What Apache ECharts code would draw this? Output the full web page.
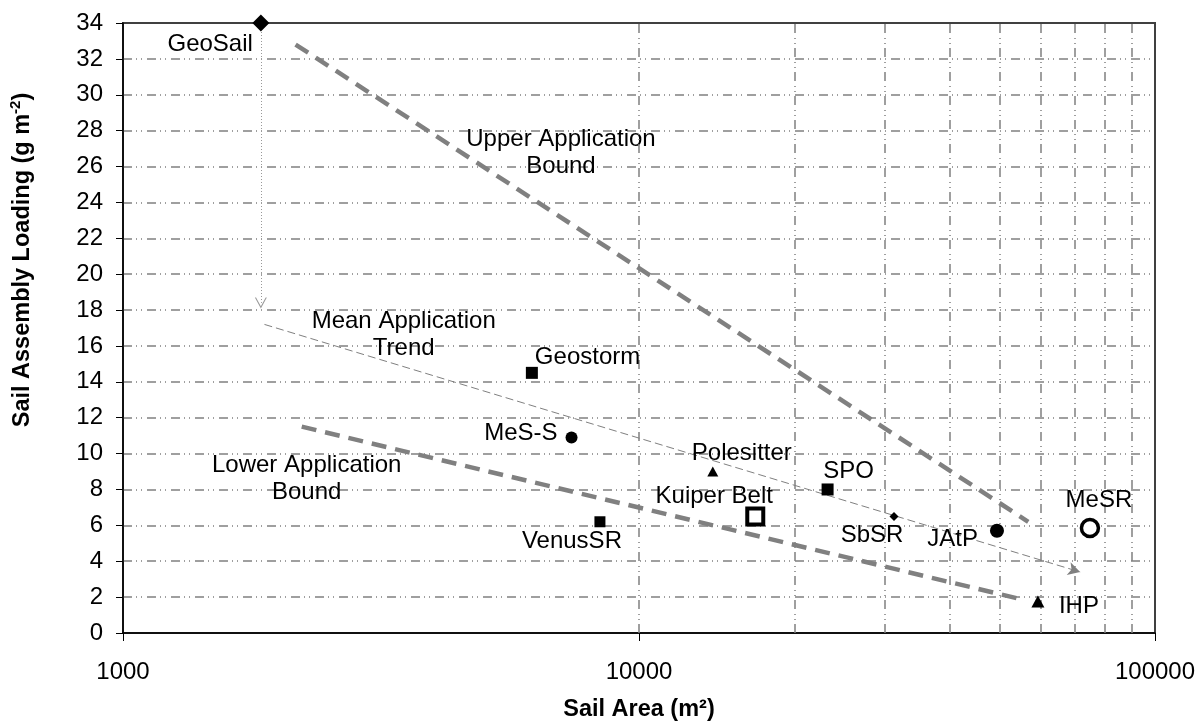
<!DOCTYPE html>
<html>
<head>
<meta charset="utf-8">
<title>Sail assembly loading vs sail area</title>
<script src="https://cdn.jsdelivr.net/npm/echarts@6/dist/echarts.min.js"></script>
<style>
  html, body { margin: 0; padding: 0; background: #fff; }
  #chart { width: 1203px; height: 722px; }
</style>
</head>
<body>
<div id="chart"></div>
<script>
// mission points (sail area m^2, loading g/m^2)
const pointNames = ['GeoSail', 'Geostorm', 'MeS-S', 'Polesitter', 'Kuiper Belt', 'VenusSR', 'SPO', 'SbSR', 'JAtP', 'MeSR', 'IHP'];
const sailArea   = [1850, 6200, 7400, 13900, 16800, 8400, 23200, 31200, 49400, 74800, 59300];
const loading    = [34, 14.5, 10.9, 9.0, 6.5, 6.2, 8.0, 6.5, 5.7, 5.85, 1.75];

// trend lines, end points
const upperBoundX = [2160, 56800];
const upperBoundY = [32.8, 6.2];
const lowerBoundX = [2220, 54700];
const lowerBoundY = [11.5, 1.9];
const meanTrendX  = [1880, 71600];
const meanTrendY  = [17.2, 3.4];
const geoSailDropY = [34, 18.4];   // dotted arrow below GeoSail

// axis ticks / grid
const xTickLabels = [1000, 10000, 100000];
const xGridLines  = [10000, 20000, 30000, 40000, 50000, 60000, 70000, 80000, 90000];
const yMin = 0, yMax = 34, yStep = 2;

// free text annotations
const noteTexts = ['Upper Application\nBound', 'Mean Application\nTrend', 'Lower Application\nBound'];
const noteX = [7060, 3500, 2270];
const noteY = [26.76, 16.6, 8.6];

const FONT = '"Liberation Sans", Arial, sans-serif';
const GREY = '#808080';
const dashDot = [9, 4, 1, 4, 1, 5];

// marker look per mission
const markStyle = {
  'GeoSail':     { symbol: 'diamond',  size: [17, 17] },
  'Geostorm':    { symbol: 'rect',     size: 12 },
  'MeS-S':       { symbol: 'circle',   size: 12 },
  'Polesitter':  { symbol: 'triangle', size: [11, 10] },
  'Kuiper Belt': { symbol: 'rect',     size: 16, hollow: 4 },
  'VenusSR':     { symbol: 'rect',     size: 11 },
  'SPO':         { symbol: 'rect',     size: 12 },
  'SbSR':        { symbol: 'diamond',  size: [9, 9] },
  'JAtP':        { symbol: 'circle',   size: 14 },
  'MeSR':        { symbol: 'circle',   size: 17, hollow: 3.5 },
  'IHP':         { symbol: 'triangle', size: [13, 12] }
};
// label placement relative to marker centre
const labelPlace = {
  'GeoSail':     ['right', -8, 21],
  'Geostorm':    ['left', 3, -15],
  'MeS-S':       ['right', -14, -4],
  'Polesitter':  ['center', 29, -18],
  'Kuiper Belt': ['center', -41, -20],
  'VenusSR':     ['center', -28, 20],
  'SPO':         ['center', 21, -18],
  'SbSR':        ['center', -22, 19],
  'JAtP':        ['right', -19, 9],
  'MeSR':        ['center', 9, -28],
  'IHP':         ['left', 21, 5]
};

const pointData = pointNames.map(function (name, i) {
  const st = markStyle[name];
  const lp = labelPlace[name];
  return {
    name: name,
    value: [sailArea[i], loading[i]],
    symbol: st.symbol,
    symbolSize: st.size,
    itemStyle: st.hollow
      ? { color: '#fff', borderColor: '#000', borderWidth: st.hollow, opacity: 1 }
      : { color: '#000', opacity: 1 },
    label: {
      show: true,
      formatter: name,
      position: 'inside',
      align: lp[0],
      verticalAlign: 'middle',
      offset: [lp[1], lp[2]],
      color: '#000',
      opacity: 1,
      fontFamily: FONT,
      fontSize: 24
    }
  };
});

const noteData = noteTexts.map(function (t, i) {
  return { value: [noteX[i], noteY[i]], label: { formatter: t } };
});

const chart = echarts.init(document.getElementById('chart'));
chart.setOption({
  backgroundColor: '#fff',
  animation: false,
  textStyle: { fontFamily: FONT },
  grid: {
    left: 123, right: 48, top: 23, bottom: 89,
    outerBoundsMode: 'none',
    containLabel: false,
    show: true, borderColor: '#404040', borderWidth: 2
  },
  xAxis: {
    type: 'log',
    logBase: 10,
    min: xTickLabels[0],
    max: xTickLabels[xTickLabels.length - 1],
    name: 'Sail Area (m²)',
    nameLocation: 'middle',
    nameGap: 65,
    nameTextStyle: { color: '#000', fontWeight: 'bold', fontSize: 23.5, fontFamily: FONT },
    axisLine: { lineStyle: { color: '#000', width: 1.5 } },
    axisTick: { show: true, length: 8, lineStyle: { color: '#000' } },
    axisLabel: {
      color: '#000', fontSize: 24, fontFamily: FONT, margin: 27,
      formatter: function (v) { return String(v); }
    },
    splitLine: { show: false }
  },
  yAxis: {
    type: 'value',
    min: yMin, max: yMax, interval: yStep,
    name: '{t|Sail Assembly Loading (g m}{s|-2}{t|)}',
    nameLocation: 'middle',
    nameRotate: 90,
    nameGap: 88,
    nameTextStyle: {
      padding: [0, 0, 0, 136],
      rich: {
        t: { fontFamily: FONT, fontWeight: 'bold', fontSize: 23.5, color: '#000', lineHeight: 27, verticalAlign: 'bottom' },
        s: { fontFamily: FONT, fontWeight: 'bold', fontSize: 15, color: '#000', lineHeight: 27, verticalAlign: 'top', padding: [0, 0, 10, 0] }
      }
    },
    axisLine: { show: true, lineStyle: { color: '#000', width: 1.5 } },
    axisTick: { show: true, length: 7, lineStyle: { color: '#000' } },
    axisLabel: { color: '#000', fontSize: 24, fontFamily: FONT, margin: 20 },
    splitLine: {
      show: true, showMinLine: false, showMaxLine: false,
      lineStyle: { color: GREY, width: 1.5, type: dashDot }
    }
  },
  series: [
    {
      // vertical grid in the upper decade
      type: 'scatter',
      data: [],
      silent: true,
      z: 1,
      markLine: {
        silent: true,
        symbol: ['none', 'none'],
        label: { show: false },
        lineStyle: { color: GREY, width: 1.5, type: dashDot },
        data: xGridLines.map(function (v) { return { xAxis: v }; })
      }
    },
    {
      name: 'Upper Application Bound',
      type: 'line',
      data: upperBoundX.map(function (x, i) { return [x, upperBoundY[i]]; }),
      showSymbol: false,
      symbol: 'none',
      z: 3,
      lineStyle: { color: GREY, width: 4.5, type: [15, 9] }
    },
    {
      name: 'Lower Application Bound',
      type: 'line',
      data: lowerBoundX.map(function (x, i) { return [x, lowerBoundY[i]]; }),
      showSymbol: false,
      symbol: 'none',
      z: 3,
      lineStyle: { color: GREY, width: 4.5, type: [15, 9] }
    },
    {
      name: 'Mean Application Trend',
      type: 'scatter',
      data: [],
      z: 3,
      markLine: {
        silent: true,
        symbol: ['none', 'arrow'],
        symbolSize: [10, 12],
        label: { show: false },
        lineStyle: { color: GREY, width: 1, type: [8, 4] },
        data: [[
          { coord: [meanTrendX[0], meanTrendY[0]] },
          { coord: [meanTrendX[1], meanTrendY[1]] }
        ]]
      }
    },
    {
      name: 'GeoSail drop',
      type: 'scatter',
      data: [],
      z: 3,
      markLine: {
        silent: true,
        symbol: ['none', 'path://M5,0 L10,10 L9,10 L5,2 L1,10 L0,10 Z'],
        symbolSize: [12, 11],
        label: { show: false },
        lineStyle: { color: '#999', width: 1, type: [1, 2] },
        data: [[
          { coord: [sailArea[0], geoSailDropY[0]] },
          { coord: [sailArea[0], geoSailDropY[1]] }
        ]]
      }
    },
    {
      name: 'Missions',
      type: 'scatter',
      z: 5,
      itemStyle: { opacity: 1 },
      data: pointData
    },
    {
      name: 'Notes',
      type: 'scatter',
      z: 4,
      symbolSize: 0,
      silent: true,
      itemStyle: { opacity: 1 },
      label: {
        show: true,
        position: 'inside',
        align: 'center',
        color: '#000',
        fontFamily: FONT,
        fontSize: 24,
        lineHeight: 27
      },
      data: noteData
    }
  ]
});
</script>
</body>
</html>
